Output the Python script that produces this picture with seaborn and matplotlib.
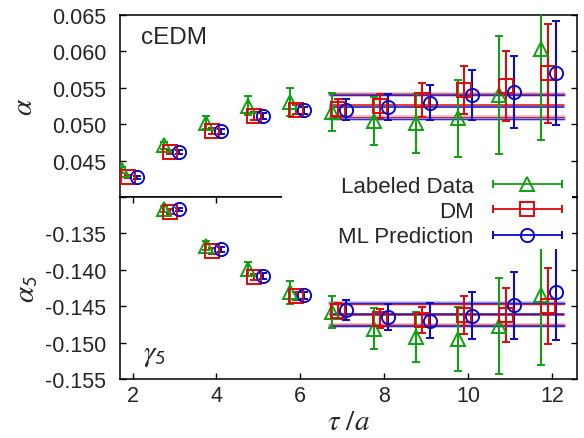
import matplotlib
matplotlib.use("Agg")
import matplotlib.pyplot as plt
from matplotlib.legend_handler import HandlerErrorbar
from matplotlib.patches import Rectangle
import seaborn as sns
import numpy as np

# tau/a values; the fit bands run from 6.7 to 12.3
TAU_TOP = np.array([2, 3, 4, 5, 6, 7, 8, 9, 10, 11, 12])
TAU_BOT = np.array([3, 4, 5, 6, 7, 8, 9, 10, 11, 12])
BAND_X = [6.7, 12.3]

# alpha (cEDM)
alpha_lab = [0.0437, 0.0471, 0.0502, 0.0525, 0.0530, 0.0517, 0.0504, 0.0501, 0.0508, 0.0540, 0.0603]
alpha_lab_err = [0.0004, 0.0005, 0.0009, 0.0013, 0.0019, 0.0026, 0.0033, 0.0040, 0.0053, 0.0081, 0.0125]
alpha_dm = [0.0428, 0.0462, 0.0490, 0.0511, 0.0520, 0.0521, 0.0525, 0.0533, 0.0547, 0.0552, 0.0570]
alpha_dm_err = [0.0002, 0.0003, 0.0004, 0.0005, 0.0006, 0.0013, 0.0017, 0.0023, 0.0033, 0.0048, 0.0068]
alpha_ml = [0.0427, 0.0462, 0.0490, 0.0511, 0.0519, 0.0520, 0.0523, 0.0529, 0.0540, 0.0544, 0.0570]
alpha_ml_err = [0.0002, 0.0003, 0.0003, 0.0004, 0.0005, 0.0014, 0.0018, 0.0024, 0.0034, 0.0050, 0.0071]
alpha_band_dm = (0.0526, 0.0016)
alpha_band_ml = (0.0523, 0.00165)

# alpha_5 (gamma_5)
alpha5_lab = [-0.1316, -0.1367, -0.1399, -0.1431, -0.1458, -0.1481, -0.1492, -0.1495, -0.1477, -0.1435]
alpha5_lab_err = [0.0004, 0.0006, 0.0010, 0.0016, 0.0022, 0.0028, 0.0034, 0.0044, 0.0066, 0.0096]
alpha5_dm = [-0.1320, -0.1374, -0.1410, -0.1436, -0.1456, -0.1467, -0.1469, -0.1462, -0.1462, -0.1450]
alpha5_dm_err = [0.0003, 0.0004, 0.0004, 0.0005, 0.0011, 0.0013, 0.0018, 0.0026, 0.0037, 0.0052]
alpha5_ml = [-0.1317, -0.1372, -0.1409, -0.1435, -0.1455, -0.1465, -0.1470, -0.1463, -0.1449, -0.1431]
alpha5_ml_err = [0.0002, 0.0003, 0.0004, 0.0005, 0.0014, 0.0018, 0.0024, 0.0032, 0.0046, 0.0065]
alpha5_band_dm = (-0.14615, 0.0014)
alpha5_band_ml = (-0.1461, 0.0016)

GREEN = "#12a012"
RED = "#dc0a0a"
BLUE = "#0a0ac8"

sns.set_style("ticks")
plt.rcParams["font.family"] = ["Liberation Sans", "DejaVu Sans"]
plt.rcParams["mathtext.fontset"] = "stix"
plt.rcParams["xtick.direction"] = "in"
plt.rcParams["ytick.direction"] = "in"
plt.rcParams["axes.linewidth"] = 1.1
plt.rcParams["axes.edgecolor"] = "black"

STYLES = [
    ("Labeled Data", "^", GREEN, -0.25),
    ("DM", "s", RED, -0.1),
    ("ML Prediction", "o", BLUE, 0.1),
]


def draw_band(ax, band, colour):
    c, e = band
    ax.plot(BAND_X, [c, c], color=colour, lw=1.1, zorder=1)
    for y in (c - e, c + e):
        ax.plot(BAND_X, [y, y], color=colour, lw=2.6, alpha=0.3, zorder=1)
        ax.plot(BAND_X, [y, y], color=colour, lw=0.7, alpha=0.8, zorder=1)


def draw_panel(ax, tau, series):
    for (label, marker, colour, shift), (vals, errs) in zip(STYLES, series):
        ax.errorbar(
            tau + shift, vals, yerr=errs, fmt=marker, color=colour,
            mfc="none", mec=colour, ms=9.5, mew=1.4,
            elinewidth=1.5, capsize=3, capthick=1.5, zorder=3,
        )


fig = plt.figure(figsize=(5.84, 4.39), dpi=100)
ax_top = fig.add_axes([0.2055, 0.549, 0.7825, 0.415])
ax_bot = fig.add_axes([0.2055, 0.1344, 0.7825, 0.4146])

draw_band(ax_top, alpha_band_dm, RED)
draw_band(ax_top, alpha_band_ml, BLUE)
draw_panel(ax_top, TAU_TOP, [(alpha_lab, alpha_lab_err), (alpha_dm, alpha_dm_err), (alpha_ml, alpha_ml_err)])

draw_band(ax_bot, alpha5_band_dm, RED)
draw_band(ax_bot, alpha5_band_ml, BLUE)
draw_panel(ax_bot, TAU_BOT, [(alpha5_lab, alpha5_lab_err), (alpha5_dm, alpha5_dm_err), (alpha5_ml, alpha5_ml_err)])

for ax in (ax_top, ax_bot):
    ax.set_xlim(1.7, 12.6)
    ax.set_xticks([2, 4, 6, 8, 10, 12])
    ax.tick_params(axis="both", labelsize=15.5, length=4, width=1.0, color="black")
    ax.tick_params(axis="y", left=True, right=True, pad=10)
    ax.tick_params(axis="x", pad=4)

ax_top.set_ylim(0.040, 0.065)
ax_top.set_yticks([0.045, 0.050, 0.055, 0.060, 0.065])
ax_top.set_yticklabels(["0.045", "0.050", "0.055", "0.060", "0.065"])
ax_top.tick_params(axis="x", bottom=False, labelbottom=False)
ax_top.set_ylabel(r"$\alpha$", fontsize=21, labelpad=10)
ax_top.text(0.047, 0.878, "cEDM", transform=ax_top.transAxes, fontsize=17.5, va="center")

ax_bot.set_ylim(-0.155, -0.130)
ax_bot.set_yticks([-0.155, -0.150, -0.145, -0.140, -0.135, -0.130])
ax_bot.set_yticklabels(["-0.155", "-0.150", "-0.145", "-0.140", "-0.135", ""])
ax_bot.tick_params(axis="x", top=True, bottom=True)
ax_bot.set_ylabel(r"$\alpha_\mathsf{5}$", fontsize=21, labelpad=3)
ax_bot.set_xlabel(r"$\tau\ /a$", fontsize=21, labelpad=1)
ax_bot.text(0.05, 0.137, r"$\gamma_\mathsf{5}$", transform=ax_bot.transAxes, fontsize=21, va="center")

# white box behind the legend, covering the panel seam on the right
fig.add_artist(Rectangle((282 / 584, 1 - 250 / 439), 290 / 584, 80 / 439,
                         transform=fig.transFigure, facecolor="white",
                         edgecolor="none", zorder=8))

# legend proxies: horizontal bar with caps through the marker
handles = []
for label, marker, colour, shift in STYLES:
    h = ax_top.errorbar(
        [np.nan], [np.nan], xerr=[1], fmt=marker, color=colour,
        mfc="none", mec=colour, ms=9.5, mew=1.4,
        elinewidth=1.3, capsize=3, capthick=1.3,
    )
    handles.append(h)

leg = fig.legend(
    handles, [s[0] for s in STYLES],
    loc="upper right", bbox_to_anchor=(0.975, 0.613),
    markerfirst=False, fontsize=16, frameon=False,
    handlelength=3.2, handletextpad=0.8, labelspacing=0.2,
    borderpad=0.3, borderaxespad=0,
    handler_map={type(handles[0]): HandlerErrorbar(xerr_size=1.55)},
)
leg.set_zorder(10)

fig.savefig("out.png", dpi=100)
